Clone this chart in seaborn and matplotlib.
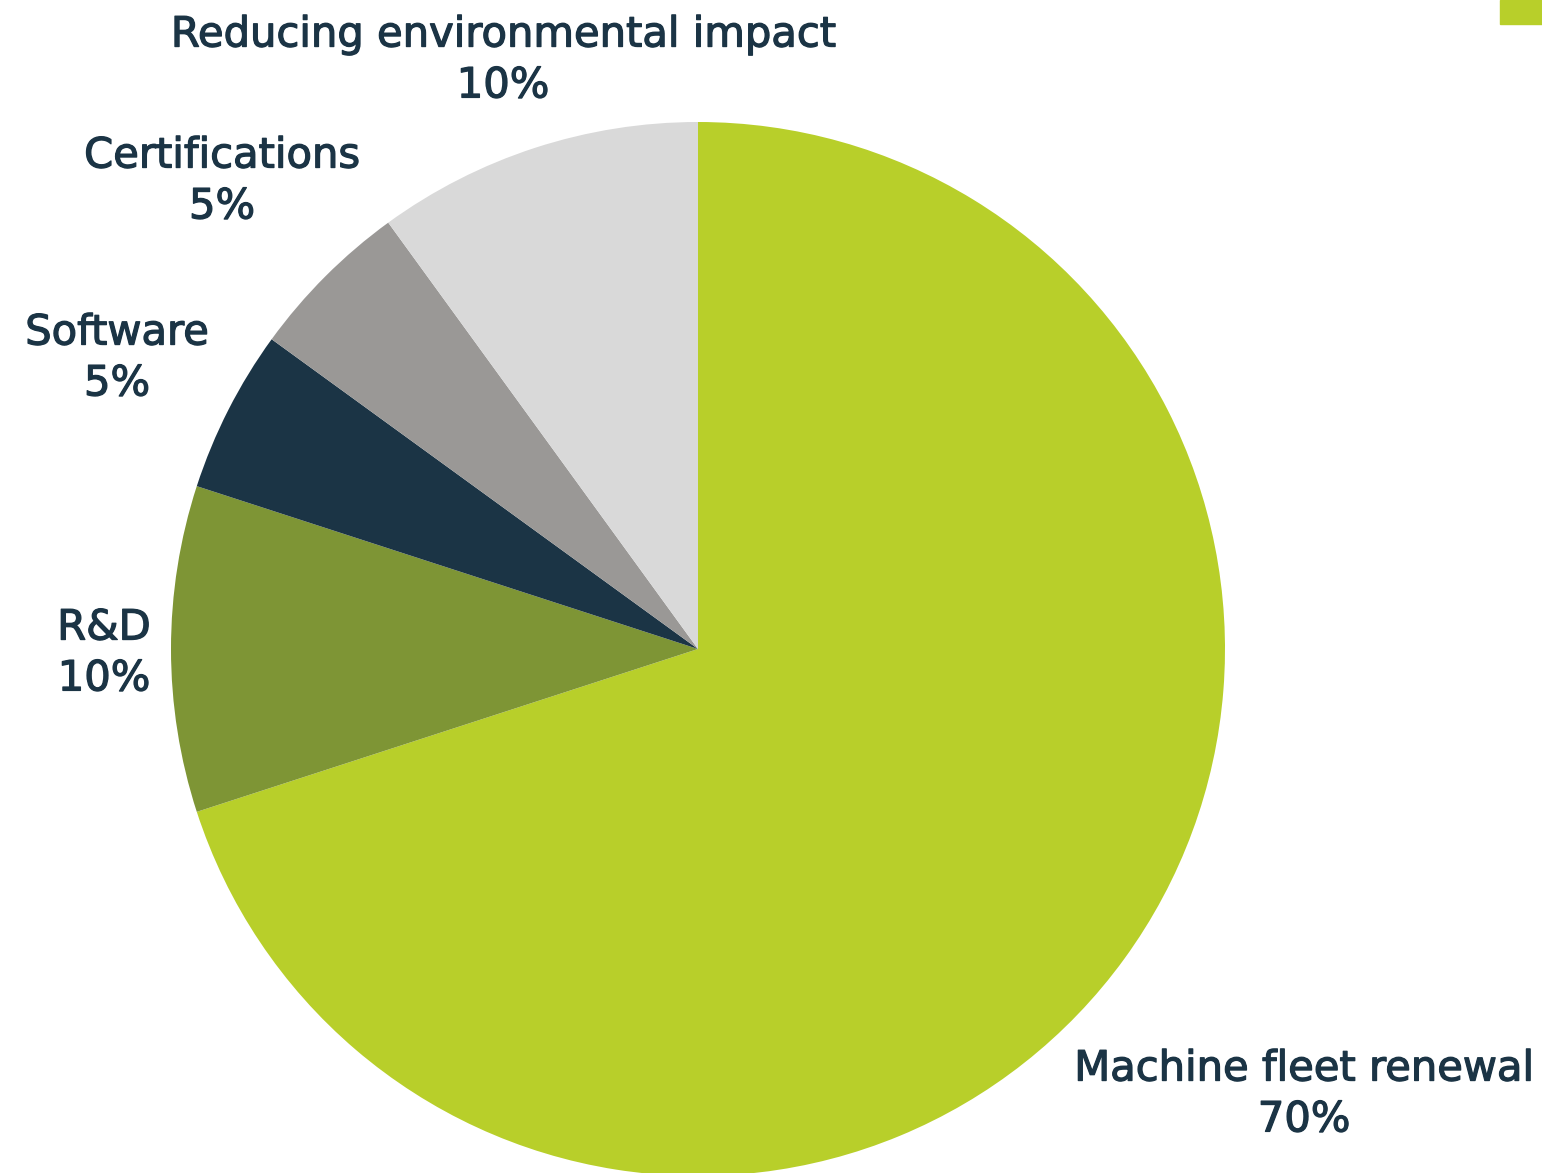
import matplotlib
matplotlib.use("Agg")
import matplotlib.pyplot as plt
import matplotlib.patheffects as pe
import seaborn as sns
from matplotlib.patches import Rectangle

categories = ["Machine fleet renewal", "R&D", "Software", "Certifications",
              "Reducing environmental impact"]
values = [70, 10, 5, 5, 10]
colors = ["#B8CF2A", "#7E9535", "#1B3445", "#9A9896", "#D9D9D9"]

sns.set_theme(style="white")
plt.rcParams['font.family'] = ['DejaVu Sans']

W, H = 1542, 1173
fig = plt.figure(figsize=(W / 100, H / 100), dpi=100)
ax = fig.add_axes([0, 0, 1, 1])

cx, cy, r = 698, H - 649, 527
ax.pie(values, colors=colors, startangle=90, counterclock=False,
       center=(cx, cy), radius=r, frame=True,
       wedgeprops=dict(linewidth=0))
ax.set_xlim(0, W)
ax.set_ylim(0, H)
ax.set_aspect("equal")
ax.axis("off")

label_pos = {
    "Reducing environmental impact": (503, 60),
    "Certifications": (222, 181),
    "Software": (117, 358),
    "R&D": (104, 653),
    "Machine fleet renewal": (1304, 1094),
}
text_color = "#1B3445"
for cat, v in zip(categories, values):
    x, y = label_pos[cat]
    ax.text(x, H - y, f"{cat}\n{v}%", ha="center", va="center",
            fontsize=30, color=text_color, linespacing=1.27,
            path_effects=[pe.withStroke(linewidth=0.9, foreground=text_color)])

fig.patches.append(Rectangle((1500 / W, 1 - 24 / H), 42 / W, 24 / H,
                             transform=fig.transFigure, color="#B8CF2A"))

fig.savefig("out.png", dpi=100)
